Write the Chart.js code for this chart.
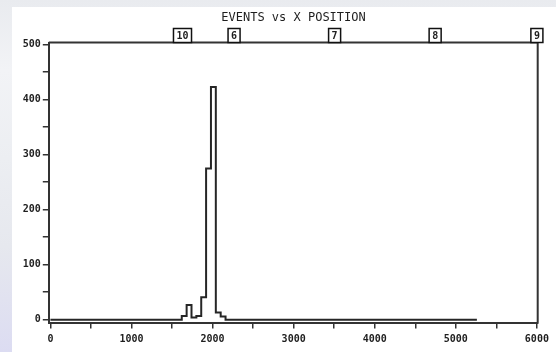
<!DOCTYPE html>
<html>
<head>
<meta charset="utf-8">
<script src="https://cdn.jsdelivr.net/npm/chart.js@4/dist/chart.umd.min.js"></script>
<style>
  html, body { margin: 0; padding: 0; }
  body {
    width: 556px; height: 352px; position: relative; overflow: hidden;
    background: linear-gradient(180deg, #e9ebef 0%, #f2f3f6 20%, #eceef2 45%, #e6e8ee 70%, #dcdcf2 100%);
  }
  #panel { position: absolute; left: 12px; top: 7px; right: 0; bottom: 0; background: #ffffff; }
  #wrap { position: absolute; left: 0; top: 0; width: 556px; height: 352px; }
</style>
</head>
<body>
<div id="panel"></div>
<div id="wrap"><canvas id="c" width="556" height="352"></canvas></div>
<script>
// ---- data ----
const binEdges = [0, 1620, 1680, 1740, 1800, 1860, 1920, 1980, 2040, 2100, 2160, 5260];
const binCounts = [0, 7, 27, 4, 7, 41, 275, 423, 13, 6, 0, 0];
const markerLabels = ['10', '6', '7', '8', '9'];
const markerPositions = [1629, 2265, 3505, 4745, 6000];
const xTickValues = [0, 500, 1000, 1500, 2000, 2500, 3000, 3500, 4000, 4500, 5000, 5500, 6000];
const xTickLabels = ['0', '', '1000', '', '2000', '', '3000', '', '4000', '', '5000', '', '6000'];
const yTickValues = [0, 50, 100, 150, 200, 250, 300, 350, 400, 450, 500];
const yTickLabels = ['0', '', '100', '', '200', '', '300', '', '400', '', '500'];
const chartTitle = 'EVENTS vs X POSITION';

const MONO = '"DejaVu Sans Mono", "Liberation Mono", monospace';
const INK = '#1e1e1e';

const points = binEdges.map((x, i) => ({ x: x, y: binCounts[i] }));

const framePlugin = {
  id: 'frameAndMarkers',
  afterDraw(chart) {
    const ctx = chart.ctx;
    const a = chart.chartArea;
    const xs = chart.scales.x;
    ctx.save();
    ctx.strokeStyle = '#333333';
    ctx.lineWidth = 2;
    ctx.beginPath();
    ctx.moveTo(a.left, a.top);
    ctx.lineTo(a.right, a.top);
    ctx.lineTo(a.right, a.bottom);
    ctx.stroke();
    ctx.fillStyle = INK;
    ctx.font = '12px ' + MONO;
    ctx.textAlign = 'center';
    ctx.textBaseline = 'middle';
    ctx.fillText(chartTitle, 293.5, 17.5);
    ctx.font = 'bold 10px ' + MONO;
    markerLabels.forEach((lab, i) => {
      const px = xs.getPixelForValue(markerPositions[i]);
      const w = ctx.measureText(lab).width + 6;
      const h = 14;
      const top = a.top - h;
      ctx.fillStyle = '#ffffff';
      ctx.fillRect(px - w / 2, top, w, h);
      ctx.strokeStyle = '#111111';
      ctx.lineWidth = 1.5;
      ctx.strokeRect(px - w / 2, top, w, h);
      ctx.fillStyle = INK;
      ctx.fillText(lab, px, top + h / 2 + 0.5);
    });
    ctx.restore();
  }
};

new Chart(document.getElementById('c'), {
  type: 'line',
  data: {
    datasets: [{
      data: points,
      stepped: true,
      borderColor: '#262626',
      borderWidth: 2,
      pointRadius: 0,
      fill: false,
      tension: 0
    }]
  },
  options: {
    responsive: false,
    animation: false,
    events: [],
    layout: { padding: { top: 42.5, right: 18.3, left: 0, bottom: 0 } },
    plugins: { legend: { display: false }, tooltip: { enabled: false }, title: { display: false } },
    scales: {
      x: {
        type: 'linear',
        position: 'bottom',
        min: -20,
        max: 6010,
        afterBuildTicks: s => { s.ticks = xTickValues.map(v => ({ value: v })); },
        afterFit: s => { s.height = 29.5; },
        ticks: {
          autoSkip: false,
          maxRotation: 0,
          padding: 5,
          color: INK,
          font: { family: MONO, size: 10, weight: 'bold' },
          callback: (v, i) => xTickLabels[i]
        },
        grid: { drawOnChartArea: false, drawTicks: true, tickLength: 6, color: '#333333', lineWidth: 1.5 },
        border: { display: true, color: '#333333', width: 2 }
      },
      y: {
        type: 'linear',
        position: 'left',
        min: -5,
        max: 504,
        afterBuildTicks: s => { s.ticks = yTickValues.map(v => ({ value: v })); },
        afterFit: s => { s.width = 48.8; },
        ticks: {
          autoSkip: false,
          padding: 2,
          color: INK,
          font: { family: MONO, size: 10, weight: 'bold' },
          callback: (v, i) => yTickLabels[i]
        },
        grid: { drawOnChartArea: false, drawTicks: true, tickLength: 6, color: '#333333', lineWidth: 1.5 },
        border: { display: true, color: '#333333', width: 2 }
      }
    }
  },
  plugins: [framePlugin]
});
</script>
</body>
</html>
